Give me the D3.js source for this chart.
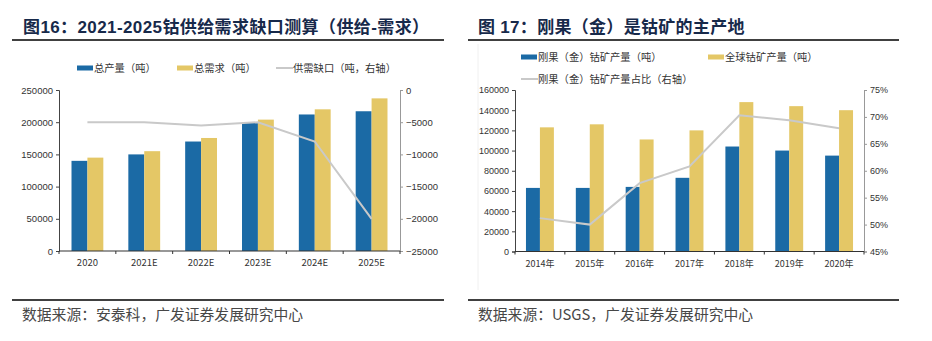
<!DOCTYPE html>
<html>
<head>
<meta charset="utf-8">
<script src="https://cdn.jsdelivr.net/npm/d3@7"></script>
<style>
  html, body { margin: 0; padding: 0; background: #fff; }
  svg { display: block; }
  text { font-family: "Liberation Sans", Arial, "Noto Sans CJK SC", sans-serif; }
  .cjk { font-family: "Noto Sans CJK SC", "Liberation Sans", sans-serif; }
</style>
</head>
<body>
<svg id="chart" width="932" height="341"></svg>
<script>
// ---- Figure 16: cobalt supply / demand gap ----
const gapYears = ["2020", "2021E", "2022E", "2023E", "2024E", "2025E"];
const totalSupply = [140000, 150000, 170000, 199000, 212000, 217000];
const totalDemand = [145000, 155000, 175500, 204000, 220000, 237000];
const supplyGap = [-5000, -5000, -5500, -5000, -8000, -20000];
const gapLeftTicks = [0, 50000, 100000, 150000, 200000, 250000];
const gapRightTicks = [-25000, -20000, -15000, -10000, -5000, 0];

// ---- Figure 17: DRC share of mined cobalt ----
const mineYears = ["2014年", "2015年", "2016年", "2017年", "2018年", "2019年", "2020年"];
const drcOutput = [63000, 63000, 64000, 73000, 104000, 100000, 95000];
const worldOutput = [123000, 126000, 111000, 120000, 148000, 144000, 140000];
const drcShare = [51.2, 50.0, 57.7, 60.8, 70.3, 69.4, 67.9];
const mineLeftTicks = [0, 20000, 40000, 60000, 80000, 100000, 120000, 140000, 160000];
const mineRightTicks = [45, 50, 55, 60, 65, 70, 75];

const BLUE = "#1b6aa5", YELLOW = "#e4c766", GREY = "#c9c9c9";
const TITLE = "#17294a";

const svg = d3.select("#chart");

function panel(cfg) {
  const g = svg.append("g");
  // title + rules
  g.append("text").attr("x", cfg.titleX).attr("y", 33)
    .attr("fill", TITLE).attr("font-size", 17).attr("font-weight", "bold")
    .attr("letter-spacing", cfg.titleSpacing)
    .text(cfg.title);
  g.append("line").attr("x1", cfg.ruleX1).attr("x2", cfg.ruleX2)
    .attr("y1", 40).attr("y2", 40).attr("stroke", "#000").attr("stroke-width", 1.5);
  g.append("line").attr("x1", cfg.ruleX1).attr("x2", cfg.ruleX2)
    .attr("y1", 300).attr("y2", 300).attr("stroke", "#000").attr("stroke-width", 1.5);
  g.append("text").attr("class", "cjk").attr("x", cfg.footX).attr("y", 320)
    .attr("fill", "#474747").attr("font-size", 14.8).text(cfg.source);

  const x = d3.scaleBand().domain(cfg.cats).range([cfg.left, cfg.right]).padding(0);
  const bw = x.bandwidth();
  const x1 = d3.scaleBand().domain(["a", "b"]).range([bw * 0.22, bw * 0.78]).padding(0);
  const yL = d3.scaleLinear().domain(cfg.leftDomain).range([cfg.bottom, cfg.top]);
  const yR = d3.scaleLinear().domain(cfg.rightDomain).range([cfg.bottom, cfg.top]);

  // bars
  const series = [{ k: "a", v: cfg.s1, c: BLUE }, { k: "b", v: cfg.s2, c: YELLOW }];
  series.forEach(s => {
    g.append("g").selectAll("rect").data(s.v).join("rect")
      .attr("x", (d, i) => x(cfg.cats[i]) + x1(s.k))
      .attr("width", x1.bandwidth())
      .attr("y", d => yL(d))
      .attr("height", d => yL(0) - yL(d))
      .attr("fill", s.c);
  });

  // line on right axis
  const line = d3.line()
    .x((d, i) => x(cfg.cats[i]) + bw / 2)
    .y(d => yR(d));
  g.append("path").datum(cfg.lineVals).attr("d", line)
    .attr("fill", "none").attr("stroke", GREY).attr("stroke-width", 2);

  // axes
  const axL = d3.axisLeft(yL).tickValues(cfg.leftTicks).tickSize(3).tickPadding(3)
    .tickFormat(d3.format("d"));
  const gl = g.append("g").attr("transform", `translate(${cfg.left},0)`).call(axL);
  gl.select(".domain").attr("stroke", "#444");
  gl.selectAll(".tick line").attr("stroke", "#444");
  gl.selectAll("text").attr("font-size", cfg.tickSize).attr("fill", "#333")
    .attr("font-family", "'Liberation Sans', Arial, sans-serif");

  const axR = d3.axisRight(yR).tickValues(cfg.rightTicks).tickSize(3).tickPadding(3)
    .tickFormat(cfg.rightFmt);
  const gr = g.append("g").attr("transform", `translate(${cfg.right},0)`).call(axR);
  gr.select(".domain").attr("stroke", "#999");
  gr.selectAll(".tick line").attr("stroke", "#999");
  gr.selectAll("text").attr("font-size", cfg.tickSize).attr("fill", "#333")
    .attr("font-family", "'Liberation Sans', Arial, sans-serif");

  // category axis: ticks sit on band edges
  const gb = g.append("g").attr("transform", `translate(0,${cfg.bottom})`);
  gb.append("line").attr("x1", cfg.left).attr("x2", cfg.right)
    .attr("stroke", "#333").attr("stroke-width", 1.2);
  const edges = cfg.cats.map(c => x(c)).concat([cfg.right]);
  gb.selectAll("line.tk").data(edges).join("line").attr("class", "tk")
    .attr("x1", d => d).attr("x2", d => d).attr("y1", 0).attr("y2", 3)
    .attr("stroke", "#333");
  gb.selectAll("text").data(cfg.cats).join("text")
    .attr("class", "cjk")
    .attr("x", d => x(d) + bw / 2).attr("y", 15)
    .attr("text-anchor", "middle").attr("font-size", cfg.tickSize).attr("fill", "#333")
    .attr("font-family", "'Liberation Sans', Arial, 'Noto Sans CJK SC', sans-serif")
    .text(d => d);

  // legend
  cfg.legend.forEach(l => {
    if (l.type === "line") {
      g.append("line").attr("x1", l.x).attr("x2", l.x + 17).attr("y1", l.y).attr("y2", l.y)
        .attr("stroke", GREY).attr("stroke-width", 2);
    } else {
      g.append("rect").attr("x", l.x).attr("y", l.y - 2.5).attr("width", 16).attr("height", 5)
        .attr("fill", l.color);
    }
    g.append("text").attr("class", "cjk").attr("x", l.x + 17).attr("y", l.y + 3.8)
      .attr("font-size", 10.3).attr("fill", "#333").text(l.text);
  });
}

panel({
  title: "图16：2021-2025钴供给需求缺口测算（供给-需求）",
  titleX: 23, titleSpacing: 0.4, ruleX1: 12, ruleX2: 444, footX: 22,
  source: "数据来源：安泰科，广发证券发展研究中心",
  cats: gapYears, left: 59, right: 400, top: 90, bottom: 251,
  leftDomain: [0, 250000], rightDomain: [-25000, 0],
  leftTicks: gapLeftTicks, rightTicks: gapRightTicks,
  rightFmt: d3.format("d"), tickSize: 9.5,
  s1: totalSupply, s2: totalDemand, lineVals: supplyGap,
  legend: [
    { type: "rect", color: BLUE, x: 77, y: 68, text: "总产量（吨）" },
    { type: "rect", color: YELLOW, x: 177, y: 68, text: "总需求（吨）" },
    { type: "line", x: 276, y: 68, text: "供需缺口（吨，右轴）" }
  ]
});

// faint frame edge of the second figure
svg.append("line").attr("x1", 478).attr("x2", 478).attr("y1", 44).attr("y2", 290)
  .attr("stroke", "#f0f0f0").attr("stroke-width", 1);

panel({
  title: "图 17：刚果（金）是钴矿的主产地",
  titleX: 478, titleSpacing: 0.3, ruleX1: 468, ruleX2: 899, footX: 478,
  source: "数据来源：USGS，广发证券发展研究中心",
  cats: mineYears, left: 515, right: 864, top: 90, bottom: 251.5,
  leftDomain: [0, 160000], rightDomain: [45, 75],
  leftTicks: mineLeftTicks, rightTicks: mineRightTicks,
  rightFmt: d => d + "%", tickSize: 9,
  s1: drcOutput, s2: worldOutput, lineVals: drcShare,
  legend: [
    { type: "rect", color: BLUE, x: 521, y: 57, text: "刚果（金）钴矿产量（吨）" },
    { type: "rect", color: YELLOW, x: 708, y: 57, text: "全球钴矿产量（吨）" },
    { type: "line", x: 521, y: 79, text: "刚果（金）钴矿产量占比（右轴）" }
  ]
});
</script>
</body>
</html>
